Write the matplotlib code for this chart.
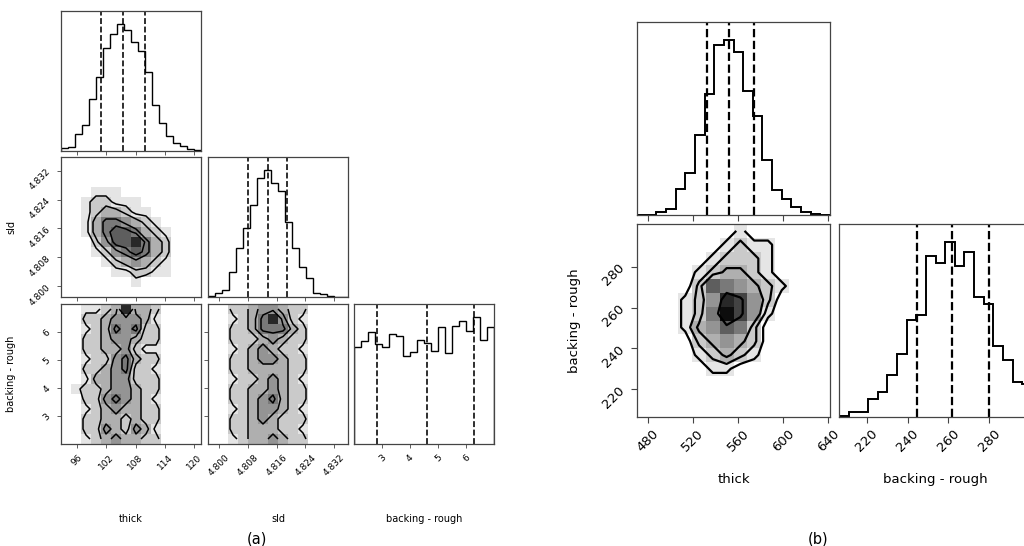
import numpy as np
import matplotlib
matplotlib.use("Agg")
import matplotlib.pyplot as plt

W, H = 1024, 546

# ---- run (a): thick, sld, backing - rough ----
a_names = ["thick", "sld", "backing - rough"]
a_ranges = [(92.7, 121.4), (4.797, 4.8358), (1.99, 6.99)]
a_ticks = [[96, 102, 108, 114, 120],
           [4.800, 4.808, 4.816, 4.824, 4.832],
           [3, 4, 5, 6]]
a_fmt = ["{:.0f}", "{:.3f}", "{:.0f}"]
a_quantiles = [[100.9, 105.5, 110.0], [4.808, 4.8135, 4.819], [2.82, 4.61, 6.28]]

a_thick_hist = [10, 13, 52, 77, 155, 221, 307, 348, 380, 360,
                325, 299, 237, 137, 84, 45, 25, 15, 7, 2]
a_sld_hist = [3, 12, 22, 73, 145, 205, 272, 352, 378, 340,
              315, 223, 145, 90, 57, 12, 10, 2, 0, 1]
a_rough_hist = [292, 310, 335, 300, 290, 330, 325, 265, 275, 312,
                302, 278, 352, 274, 353, 370, 340, 382, 312, 350]

# 2d densities, rows listed from top of the panel to bottom
a_sld_thick = [
    [0, 0, 0, 0, 0, 0, 0, 0, 0, 0, 0, 0, 0, 0],
    [0, 0, 0, 0, 0, 0, 0, 0, 0, 0, 0, 0, 0, 0],
    [0, 0, 0, 0, 0, 0, 0, 0, 0, 0, 0, 0, 0, 0],
    [0, 0, 0, 1, 1, 1, 0, 0, 0, 0, 0, 0, 0, 0],
    [0, 0, 1, 2, 2, 1, 1, 1, 0, 0, 0, 0, 0, 0],
    [0, 0, 1, 2, 3, 3, 2, 1, 1, 0, 0, 0, 0, 0],
    [0, 0, 1, 3, 5, 5, 4, 3, 2, 1, 0, 0, 0, 0],
    [0, 0, 1, 3, 5, 6, 6, 5, 3, 2, 1, 0, 0, 0],
    [0, 0, 0, 2, 4, 6, 6, 8, 5, 3, 2, 0, 0, 0],
    [0, 0, 0, 1, 2, 4, 5, 6, 5, 3, 2, 0, 0, 0],
    [0, 0, 0, 0, 1, 2, 3, 4, 3, 2, 1, 0, 0, 0],
    [0, 0, 0, 0, 0, 1, 1, 2, 2, 1, 1, 0, 0, 0],
    [0, 0, 0, 0, 0, 0, 0, 1, 0, 0, 0, 0, 0, 0],
    [0, 0, 0, 0, 0, 0, 0, 0, 0, 0, 0, 0, 0, 0],
]
a_rough_thick = [
    [0, 0, 1, 1, 2, 3, 8, 3, 3, 2, 0, 0, 0, 0],
    [0, 0, 2, 2, 3, 4, 4, 4, 3, 1, 0, 0, 0, 0],
    [0, 0, 1, 2, 3, 5, 4, 5, 2, 2, 0, 0, 0, 0],
    [0, 0, 2, 2, 3, 4, 4, 3, 2, 2, 0, 0, 0, 0],
    [0, 0, 2, 2, 3, 3, 4, 2, 1, 1, 0, 0, 0, 0],
    [0, 0, 1, 2, 2, 4, 5, 3, 2, 2, 0, 0, 0, 0],
    [0, 0, 2, 2, 3, 4, 5, 2, 2, 1, 0, 0, 0, 0],
    [0, 0, 1, 3, 3, 4, 4, 2, 2, 2, 0, 0, 0, 0],
    [0, 1, 2, 2, 3, 4, 4, 3, 2, 2, 0, 0, 0, 0],
    [0, 0, 2, 2, 4, 5, 4, 3, 2, 1, 0, 0, 0, 0],
    [0, 0, 1, 2, 3, 4, 3, 3, 2, 2, 0, 0, 0, 0],
    [0, 0, 2, 2, 3, 3, 2, 3, 2, 2, 0, 0, 0, 0],
    [0, 0, 2, 2, 4, 3, 2, 4, 3, 1, 0, 0, 0, 0],
    [0, 0, 1, 2, 3, 4, 3, 3, 2, 2, 0, 0, 0, 0],
]
a_rough_sld = [
    [0, 0, 2, 2, 3, 4, 4, 3, 2, 2, 0, 0, 0, 0],
    [0, 0, 1, 2, 3, 5, 8, 4, 2, 1, 0, 0, 0, 0],
    [0, 0, 2, 2, 3, 5, 5, 5, 3, 2, 0, 0, 0, 0],
    [0, 0, 2, 2, 2, 3, 4, 3, 2, 2, 0, 0, 0, 0],
    [0, 0, 1, 2, 3, 4, 3, 2, 2, 1, 0, 0, 0, 0],
    [0, 0, 2, 2, 3, 4, 4, 3, 2, 2, 0, 0, 0, 0],
    [0, 0, 2, 2, 3, 3, 3, 3, 2, 2, 0, 0, 0, 0],
    [0, 0, 1, 2, 2, 3, 4, 3, 2, 1, 0, 0, 0, 0],
    [0, 0, 2, 2, 3, 3, 4, 3, 2, 2, 0, 0, 0, 0],
    [0, 0, 2, 2, 3, 4, 5, 3, 2, 2, 0, 0, 0, 0],
    [0, 0, 1, 2, 3, 4, 4, 3, 2, 1, 0, 0, 0, 0],
    [0, 0, 2, 2, 3, 4, 3, 2, 2, 2, 0, 0, 0, 0],
    [0, 0, 2, 2, 3, 3, 3, 2, 2, 1, 0, 0, 0, 0],
    [0, 0, 1, 2, 3, 3, 4, 3, 2, 2, 0, 0, 0, 0],
]
# density levels of the 2, 1.5, 1 and 0.5 sigma contours
a_sld_thick_levels = [1.4, 2.4, 4.4, 5.4]
a_rough_thick_levels = [1.4, 2.5, 3.5, 4.6]
a_rough_sld_levels = [1.4, 2.5, 3.5, 4.6]

# ---- run (b): thick, backing - rough ----
b_names = ["thick", "backing - rough"]
b_ranges = [(470.6, 641.5), (206.5, 300.8)]
b_ticks = [[480, 520, 560, 600, 640], [220, 240, 260, 280]]
b_quantiles = [[532.5, 552.2, 574.6], [244.5, 261.9, 279.8]]

b_thick_hist = [0, 0, 9, 19, 77, 125, 240, 360, 507, 524,
                487, 370, 297, 164, 75, 47, 25, 8, 2, 0]
b_rough_hist = [2, 16, 16, 55, 75, 127, 190, 291, 306, 485,
                462, 527, 454, 497, 360, 340, 214, 170, 106, 100]
b_rough_thick = [
    [0, 0, 0, 0, 0, 0, 0, 1, 0, 0, 0, 0, 0, 0],
    [0, 0, 0, 0, 0, 0, 1, 2, 1, 1, 0, 0, 0, 0],
    [0, 0, 0, 0, 0, 1, 2, 2, 2, 1, 0, 0, 0, 0],
    [0, 0, 0, 0, 1, 2, 3, 3, 2, 1, 0, 0, 0, 0],
    [0, 0, 0, 0, 2, 6, 5, 4, 3, 2, 1, 0, 0, 0],
    [0, 0, 0, 1, 2, 4, 8, 7, 4, 2, 0, 0, 0, 0],
    [0, 0, 0, 1, 2, 5, 9, 7, 4, 1, 0, 0, 0, 0],
    [0, 0, 0, 1, 3, 4, 6, 5, 2, 0, 0, 0, 0, 0],
    [0, 0, 0, 0, 2, 3, 4, 3, 2, 0, 0, 0, 0, 0],
    [0, 0, 0, 0, 1, 2, 3, 2, 1, 0, 0, 0, 0, 0],
    [0, 0, 0, 0, 0, 1, 1, 0, 0, 0, 0, 0, 0, 0],
    [0, 0, 0, 0, 0, 0, 0, 0, 0, 0, 0, 0, 0, 0],
    [0, 0, 0, 0, 0, 0, 0, 0, 0, 0, 0, 0, 0, 0],
    [0, 0, 0, 0, 0, 0, 0, 0, 0, 0, 0, 0, 0, 0],
]
b_rough_thick_levels = [0.7, 1.7, 2.7, 6.5]

SPINE = "#444444"
DENSITY_MAX = 9.5


def px_axes(fig, x0, y0, w, h):
    # pixel box (top-left origin) -> figure fraction
    ax = fig.add_axes([x0 / W, 1 - (y0 + h) / H, w / W, h / H])
    for s in ax.spines.values():
        s.set_color(SPINE)
        s.set_linewidth(0.9)
    return ax


def draw_hist(ax, counts, rng, quants, lw):
    edges = np.linspace(rng[0], rng[1], len(counts) + 1)
    ax.stairs(counts, edges, color="k", lw=lw)
    for q in quants:
        ax.axvline(q, color="k", ls="--", lw=lw * 1.15)
    ax.set_xlim(rng)
    ax.set_ylim(0, 1.1 * max(counts))
    ax.set_yticks([])


def draw_2d(ax, grid, levels, xr, yr, lw):
    z = np.flipud(np.asarray(grid, float))
    ny, nx = z.shape
    xe = np.linspace(xr[0], xr[1], nx + 1)
    ye = np.linspace(yr[0], yr[1], ny + 1)
    ax.pcolormesh(xe, ye, z, cmap="gray_r", vmin=0, vmax=DENSITY_MAX,
                  shading="flat")
    xc = 0.5 * (xe[1:] + xe[:-1])
    yc = 0.5 * (ye[1:] + ye[:-1])
    ax.contour(xc, yc, z, levels=levels, colors="k", linewidths=lw)
    ax.set_xlim(xr)
    ax.set_ylim(yr)


fig = plt.figure(figsize=(W / 100, H / 100), dpi=100)

# ---- corner (a) ----
a_x0 = [61, 208, 354]
a_y0 = [11, 157, 304]
a_hists = [a_thick_hist, a_sld_hist, a_rough_hist]
a_grids = {(1, 0): (a_sld_thick, a_sld_thick_levels),
           (2, 0): (a_rough_thick, a_rough_thick_levels),
           (2, 1): (a_rough_sld, a_rough_sld_levels)}
for i in range(3):
    for j in range(i + 1):
        ax = px_axes(fig, a_x0[j], a_y0[i], 140, 140)
        if i == j:
            draw_hist(ax, a_hists[i], a_ranges[i], a_quantiles[i], 1.0)
        else:
            grid, levels = a_grids[(i, j)]
            draw_2d(ax, grid, levels, a_ranges[j], a_ranges[i], 1.1)
            ax.set_yticks(a_ticks[i])
        ax.set_xticks(a_ticks[j])
        ax.tick_params(labelsize=6.5, length=3, width=0.6, color=SPINE)
        if i == 2:
            ax.set_xticklabels([a_fmt[j].format(t) for t in a_ticks[j]], rotation=45)
            ax.set_xlabel(a_names[j], fontsize=7)
            ax.xaxis.set_label_coords(0.5, -0.5)
        else:
            ax.set_xticklabels([])
        if i != j:
            if j == 0:
                ax.set_yticklabels([a_fmt[i].format(t) for t in a_ticks[i]], rotation=45)
                ax.set_ylabel(a_names[i], fontsize=7)
                ax.yaxis.set_label_coords(-0.32, 0.5)
            else:
                ax.set_yticklabels([])

# ---- corner (b) ----
b_x0 = [637, 839]
b_y0 = [22, 224]
b_hists = [b_thick_hist, b_rough_hist]
for i in range(2):
    for j in range(i + 1):
        ax = px_axes(fig, b_x0[j], b_y0[i], 193, 193)
        if i == j:
            draw_hist(ax, b_hists[i], b_ranges[i], b_quantiles[i], 1.4)
        else:
            draw_2d(ax, b_rough_thick, b_rough_thick_levels,
                    b_ranges[j], b_ranges[i], 1.6)
            ax.set_yticks(b_ticks[i])
        ax.set_xticks(b_ticks[j])
        ax.tick_params(labelsize=9.5, length=4, width=0.8, color=SPINE)
        if i == 1:
            ax.set_xticklabels([str(t) for t in b_ticks[j]], rotation=45)
            ax.set_xlabel(b_names[j], fontsize=9.5)
            ax.xaxis.set_label_coords(0.5, -0.29)
        else:
            ax.set_xticklabels([])
        if i != j:
            ax.set_yticklabels([str(t) for t in b_ticks[i]], rotation=45)
            ax.set_ylabel(b_names[i], fontsize=9.5)
            ax.yaxis.set_label_coords(-0.29, 0.5)

fig.text(257 / W, 1 - 539 / H, "(a)", ha="center", va="center", fontsize=10.5)
fig.text(818 / W, 1 - 539 / H, "(b)", ha="center", va="center", fontsize=10.5)

fig.savefig("out.png", dpi=100)
